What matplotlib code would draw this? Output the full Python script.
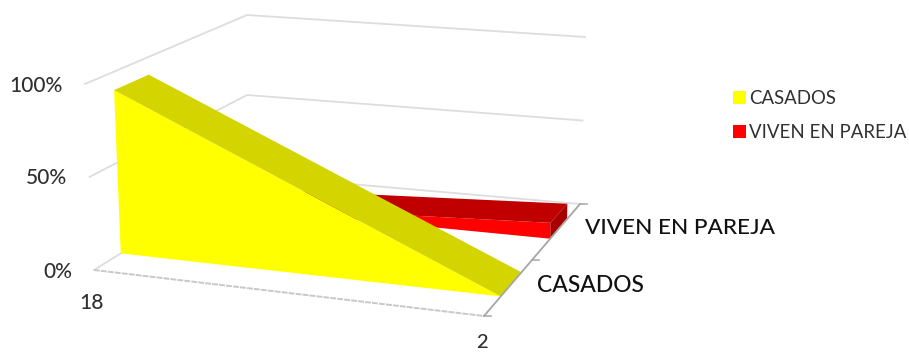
import numpy as np
import matplotlib
matplotlib.use("Agg")
import matplotlib.pyplot as plt
from matplotlib.patches import Patch, Polygon

plt.rcParams["font.family"] = ["Lato", "DejaVu Sans"]

# Chart values
ages = ["18", "2"]
y_ticks = [0, 50, 100]
series_names = ["CASADOS", "VIVEN EN PAREJA"]
casados = [90, 0]
viven_en_pareja = [0, 9]

# Where the plot box corners land on the canvas: (category, depth, percent)
corners = {
    (0, 0, 0): (94, 270), (1, 0, 0): (484, 316),
    (0, 1, 0): (247, 175), (1, 1, 0): (580, 204),
    (0, 0, 1): (85, 84), (1, 0, 1): (478, 119),
    (0, 1, 1): (247, 15), (1, 1, 1): (585, 37),
}


def project(x, d, pct):
    # trilinear blend between the eight box corners
    z = pct / 100
    p = np.zeros(2)
    for (i, j, k), c in corners.items():
        w = (x if i else 1 - x) * (d if j else 1 - d) * (z if k else 1 - z)
        p += w * np.array(c)
    return p


def draw_ribbon(ax, values, d0, d1, front, top, side):
    # one ribbon of the 3D area chart: front face, top face, end cap
    v0, v1 = values
    ax.add_patch(Polygon([project(0, d0, 0), project(0, d0, v0), project(1, d0, v1), project(1, d0, 0)],
                         closed=True, fc=front, ec="none"))
    ax.add_patch(Polygon([project(0, d0, v0), project(0, d1, v0), project(1, d1, v1), project(1, d0, v1)],
                         closed=True, fc=top, ec="none"))
    if v1 > 0:
        ax.add_patch(Polygon([project(1, d0, 0), project(1, d0, v1), project(1, d1, v1), project(1, d1, 0)],
                             closed=True, fc=side, ec="none"))


fig = plt.figure(figsize=(9.09, 3.52), dpi=100)
ax = fig.add_axes([0, 0, 1, 1])
ax.set_xlim(0, 909)
ax.set_ylim(352, 0)
ax.axis("off")

grid_color = "#DDDDDD"

# Gridlines along the side and back walls
for t in y_ticks:
    pts = np.array([project(0, 0, t), project(0, 1, t), project(1, 1, t)])
    ax.plot(pts[:, 0], pts[:, 1], color=grid_color, lw=1.3, zorder=0)

# Floor edges
pts = np.array([project(0, 0, 0), project(1, 0, 0)])
ax.plot(pts[:, 0], pts[:, 1], color="#C8C8C8", lw=1.4, ls=(0, (3, 0.6)), zorder=0)

# Depth axis on the right, with tick marks between the series
pts = np.array([project(1, 0, 0), project(1, 1, 0)])
ax.plot(pts[:, 0], pts[:, 1], color="#A6A6A6", lw=1.3, zorder=3)
for d in [0, 0.5, 1]:
    p = project(1, d, 0)
    ax.plot([p[0], p[0] + 7], [p[1], p[1]], color="#A6A6A6", lw=1.1, zorder=3)

# Back series first so the front one covers it
draw_ribbon(ax, viven_en_pareja, 0.69, 0.865, "#FF0000", "#C00000", "#A80000")
draw_ribbon(ax, casados, 0.175, 0.39, "#FFFF00", "#D4D400", "#A8A800")

# Percent labels
for t in y_ticks:
    p = project(0, 0, t)
    ax.text(p[0] - 22, p[1] + 1.5, f"{t}%", ha="right", va="center", fontsize=15, color="#303030", weight="medium")

# Category labels
ax.text(92, 303, ages[0], ha="center", va="center", fontsize=15, color="#303030", weight="medium")
ax.text(482, 343, ages[1], ha="center", va="center", fontsize=14.5, color="#303030", weight="medium")

# Series labels next to the depth axis
ax.text(537, 285, series_names[0], ha="left", va="center", fontsize=16.5, color="#111111", weight="medium")
ax.text(585, 228, series_names[1], ha="left", va="center", fontsize=16.2, color="#111111", weight="medium")

handles = [Patch(fc="#FFFF00", ec="none"), Patch(fc="#FF0000", ec="none")]
ax.legend(handles, series_names, loc="upper left", bbox_to_anchor=(733, 90),
          bbox_transform=ax.transData, frameon=False, fontsize=13.4,
          handlelength=0.7, handleheight=0.7, handletextpad=0.15, labelspacing=0.9,
          labelcolor="#303030", borderpad=0, borderaxespad=0)

fig.savefig("out.png", dpi=100)
plt.close(fig)
